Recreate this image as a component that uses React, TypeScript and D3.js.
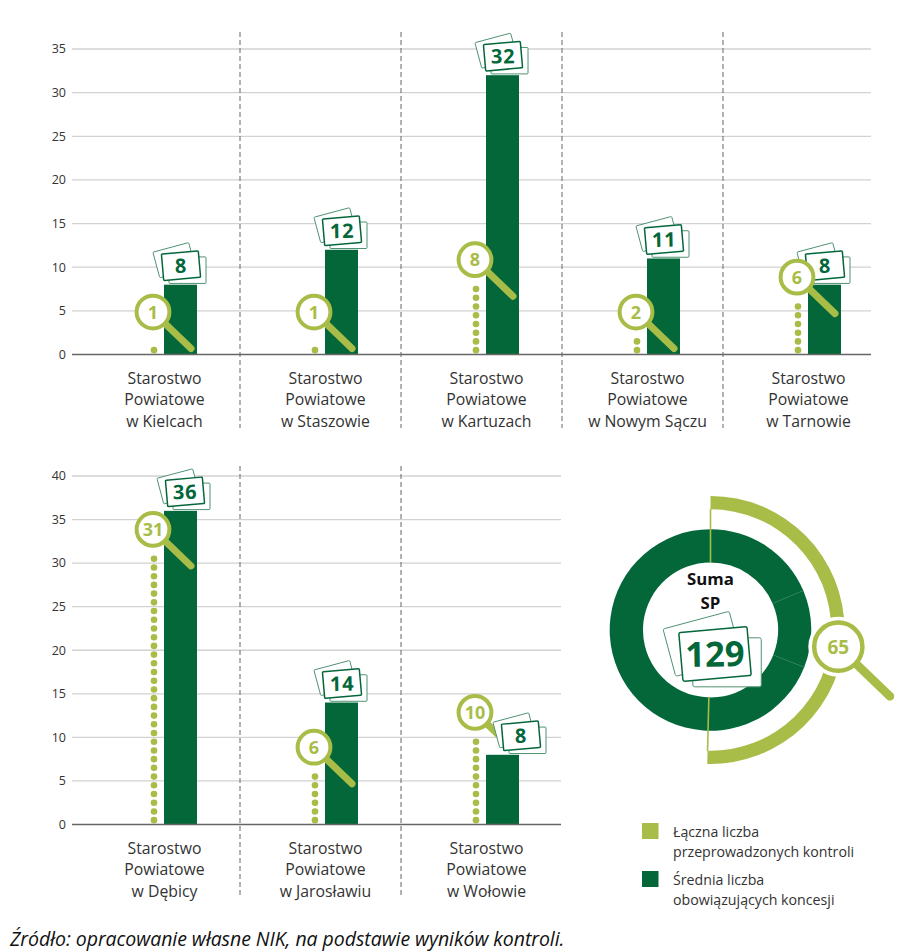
import React from "react";
import * as d3 from "d3";

const DARK = "#04673a";
const LIGHT = "#a8bd47";
const CARD_LINE = "#4f9272";
const TEXT = "#333333";
const FONT = "'Open Sans', 'Noto Sans', sans-serif";

const topCities = ["w Kielcach", "w Staszowie", "w Kartuzach", "w Nowym Sączu", "w Tarnowie"];
const topConcessions = [8, 12, 32, 11, 8];
const topInspections = [1, 1, 8, 2, 6];
const topTicks = [0, 5, 10, 15, 20, 25, 30, 35];

const bottomCities = ["w Dębicy", "w Jarosławiu", "w Wołowie"];
const bottomConcessions = [36, 14, 8];
const bottomInspections = [31, 6, 10];
const bottomTicks = [0, 5, 10, 15, 20, 25, 30, 35, 40];

// The ring is cut into three parts that add up to the total in its middle.
const ringParts = [24, 16, 89];
const totalConcessions = 129;
const totalInspections = 65;

const legendLabels = [
  ["Łączna liczba", "przeprowadzonych kontroli"],
  ["Średnia liczba", "obowiązujących koncesji"],
];
const sourceNote = "Źródło: opracowanie własne NIK, na podstawie wyników kontroli.";

function Card({ x, y, value, scale = 1 }: { x: number; y: number; value: number; scale?: number }) {
  const w = 37;
  const h = 26.5;
  const fontSize = scale > 1 ? 18.7 : 20;
  const sheet = (cx: number, cy: number, rot: number, sw: number, stroke: string) => (
    <rect
      x={-w / 2}
      y={-h / 2}
      width={w}
      height={h}
      rx={1}
      fill="#fff"
      stroke={stroke}
      strokeWidth={sw}
      vectorEffect="non-scaling-stroke"
      transform={`translate(${cx},${cy}) rotate(${rot})`}
    />
  );
  return (
    <g transform={`translate(${x},${y}) scale(${scale})`}>
      {sheet(6.5, 4.5, 0, 1, CARD_LINE)}
      {sheet(-6.8, -5.5, -15, 1, CARD_LINE)}
      {sheet(0, 0, -5, 1.5, DARK)}
      <text
        y={fontSize * 0.36}
        textAnchor="middle"
        fontFamily={FONT}
        fontWeight={700}
        fontSize={fontSize}
        fill={DARK}
        letterSpacing={fontSize > 19 ? 0.6 : 0}
        transform="rotate(-1)"
      >
        {value}
      </text>
    </g>
  );
}

function Lens({
  x,
  y,
  value,
  size = 1,
  reach = 1,
  fontSize = 18,
}: {
  x: number;
  y: number;
  value: number;
  size?: number;
  reach?: number;
  fontSize?: number;
}) {
  return (
    <g transform={`translate(${x},${y})`}>
      <line
        x1={12 * size}
        y1={11.5 * size}
        x2={38 * reach}
        y2={36.5 * reach}
        stroke={LIGHT}
        strokeWidth={size > 1 ? 8.5 : 7}
        strokeLinecap="round"
      />
      <circle r={16.4 * size} fill="#fff" stroke={LIGHT} strokeWidth={size > 1 ? 4.5 : 4} />
      <text
        y={fontSize * 0.36}
        textAnchor="middle"
        fontFamily={FONT}
        fontWeight={700}
        fontSize={fontSize}
        fill={LIGHT}
      >
        {value}
      </text>
    </g>
  );
}

function BarPanel({
  cities,
  bars,
  lenses,
  ticks,
  maxTick,
  yTop,
  yBase,
  xEnd,
  lineTop,
  lineBottom,
}: {
  cities: string[];
  bars: number[];
  lenses: number[];
  ticks: number[];
  maxTick: number;
  yTop: number;
  yBase: number;
  xEnd: number;
  lineTop: number;
  lineBottom: number;
}) {
  const y = d3.scaleLinear().domain([0, maxTick]).range([yBase, yTop]);
  const groupW = 161;
  const x = d3
    .scaleBand<string>()
    .domain(cities)
    .range([79, 79 + groupW * cities.length]);
  const unit = y(0) - y(1);

  return (
    <g>
      {ticks.map((t) => (
        <g key={t}>
          {t > 0 && <line x1={72} x2={xEnd} y1={y(t)} y2={y(t)} stroke="#d2d2d2" strokeWidth={1.3} />}
          <text x={66} y={y(t) + 4.3} textAnchor="end" fontFamily={FONT} fontSize={12.5} fill={TEXT}>
            {t}
          </text>
        </g>
      ))}
      {cities.slice(1).map((c) => (
        <line
          key={c}
          x1={x(c)!}
          x2={x(c)!}
          y1={lineTop}
          y2={lineBottom}
          stroke="#666"
          strokeWidth={1}
          strokeDasharray="5 3"
        />
      ))}
      {cities.map((c, i) => {
        const left = x(c)!;
        const barX = left + 85;
        const dotX = left + 75;
        const n = lenses[i];
        // A lens taller than its bar pushes the card sideways, and the card then covers the handle.
        const lensOnTop = n <= bars[i];
        const cardX = barX + 17 + (lensOnTop ? 0 : 18) + (c === "w Dębicy" ? 4 : 0);
        const card = <Card x={cardX} y={y(bars[i]) - 19} value={bars[i]} />;
        return (
          <g key={c}>
            <rect x={barX} y={y(bars[i])} width={33} height={yBase - y(bars[i])} fill={DARK} />
            {d3.range(n).map((k) => (
              <circle key={k} cx={dotX} cy={y(k + 0.5)} r={Math.min(3.3, unit / 2.6)} fill={LIGHT} />
            ))}
            {lensOnTop && card}
            <Lens x={dotX - 1} y={y(Math.max(n, 2)) - 25} value={n} />
            {!lensOnTop && card}
            {["Starostwo", "Powiatowe", c].map((line, k) => (
              <text
                key={line}
                x={left + 85.5}
                y={yBase + 29 + k * 21.5}
                textAnchor="middle"
                fontFamily={FONT}
                fontSize={15.8}
                fill={TEXT}
              >
                {line}
              </text>
            ))}
          </g>
        );
      })}
      <line x1={72} x2={xEnd} y1={yBase} y2={yBase} stroke="#666" strokeWidth={1.5} />
    </g>
  );
}

function RingSummary() {
  const cx = 710.5;
  const cy = 630;
  const pie = d3.pie<number>().sort(null).value((d) => d);
  const ring = d3.arc<d3.PieArcDatum<number>>().innerRadius(67.5).outerRadius(100.8);
  const endAngle = (totalInspections / totalConcessions) * 2 * Math.PI;
  const band = d3.arc()({ innerRadius: 120.7, outerRadius: 134, startAngle: 0, endAngle })!;
  const spoke = (angle: number, r0: number, r1: number, stroke: string, sw: number, key: string) => (
    <line
      key={key}
      x1={r0 * Math.sin(angle)}
      y1={-r0 * Math.cos(angle)}
      x2={r1 * Math.sin(angle)}
      y2={-r1 * Math.cos(angle)}
      stroke={stroke}
      strokeWidth={sw}
    />
  );
  const arcs = pie(ringParts);
  const lensX = 838.3 - cx;
  const lensY = 646.7 - cy;
  return (
    <g>
      <g transform={`translate(${cx},${cy})`}>
        {arcs.map((a, i) => (
          <path key={i} d={ring(a)!} fill={DARK} />
        ))}
        {arcs.slice(1).map((a, i) => spoke(a.startAngle, 67.5, 100.8, "#2a7c52", 0.8, `seam${i}`))}
        <path d={band} fill={LIGHT} />
        {spoke(0, 67.5, 121, LIGHT, 1.6, "start")}
        {spoke(endAngle, 67.5, 121, LIGHT, 1.6, "end")}
        <circle cx={lensX} cy={lensY} r={30} fill="#fff" />
      </g>
      <Lens x={838.3} y={646.7} value={totalInspections} size={1.47} reach={1.36} fontSize={19} />
      <text x={cx} y={585} textAnchor="middle" fontFamily={FONT} fontWeight={700} fontSize={16.8} fill="#111">
        Suma
      </text>
      <text x={cx} y={608.5} textAnchor="middle" fontFamily={FONT} fontWeight={700} fontSize={16.8} fill="#111">
        SP
      </text>
      <Card x={715} y={654} value={totalConcessions} scale={1.85} />
    </g>
  );
}

function Legend() {
  const colors = [LIGHT, DARK];
  const rows = [823, 871];
  return (
    <g>
      {legendLabels.map((lines, i) => (
        <g key={lines[0]}>
          <rect x={642} y={rows[i]} width={16.5} height={16} fill={colors[i]} />
          {lines.map((l, k) => (
            <text key={l} x={673} y={rows[i] + 14 + k * 19.5} fontFamily={FONT} fontSize={14.2} fill={TEXT}>
              {l}
            </text>
          ))}
        </g>
      ))}
    </g>
  );
}

export default function App() {
  return (
    <svg
      width={915}
      height={952}
      viewBox="0 0 915 952"
      style={{ position: "absolute", left: 0, top: 0, display: "block", background: "#fff" }}
    >
      <BarPanel
        cities={topCities}
        bars={topConcessions}
        lenses={topInspections}
        ticks={topTicks}
        maxTick={35}
        yTop={49}
        yBase={354.5}
        xEnd={871}
        lineTop={32}
        lineBottom={428}
      />
      <BarPanel
        cities={bottomCities}
        bars={bottomConcessions}
        lenses={bottomInspections}
        ticks={bottomTicks}
        maxTick={40}
        yTop={476}
        yBase={824.5}
        xEnd={561}
        lineTop={466}
        lineBottom={898}
      />
      <RingSummary />
      <Legend />
      <text x={10} y={946} fontFamily={FONT} fontStyle="italic" fontSize={19.5} letterSpacing={-0.05} fill="#111">
        {sourceNote}
      </text>
    </svg>
  );
}
